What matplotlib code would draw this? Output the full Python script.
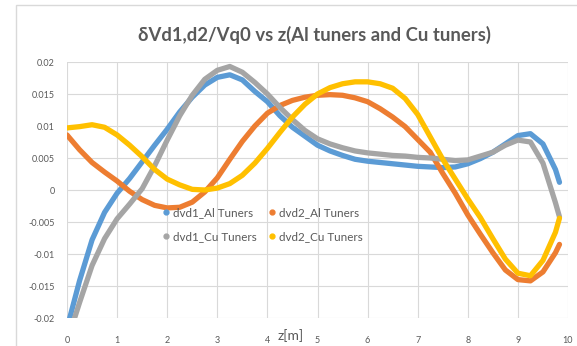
import matplotlib
matplotlib.use("Agg")
import matplotlib.pyplot as plt
from matplotlib.lines import Line2D
from matplotlib.patches import Rectangle

plt.rcParams['font.family'] = ['Lato', 'DejaVu Sans']

# z positions [m]
z = [0, 0.25, 0.5, 0.75, 1.0, 1.25, 1.5, 1.75, 2.0, 2.25, 2.5, 2.75,
     3.0, 3.25, 3.5, 3.75, 4.0, 4.25, 4.5, 4.75, 5.0, 5.25, 5.5, 5.75,
     6.0, 6.25, 6.5, 6.75, 7.0, 7.25, 7.5, 7.75, 8.0, 8.25, 8.5, 8.75,
     9.0, 9.25, 9.5, 9.75, 9.83]

# values in units of 1e-3
dvd1_al = [-21.6, -14.2, -7.8, -3.5, -0.5, 1.8, 4.4, 7.0, 9.5, 12.2, 14.5, 16.4,
           17.6, 18.0, 17.2, 15.4, 13.8, 11.6, 9.8, 8.4, 7.0, 6.1, 5.4, 4.8,
           4.5, 4.3, 4.1, 3.9, 3.7, 3.6, 3.5, 3.6, 4.1, 4.9, 5.9, 7.2,
           8.5, 8.8, 7.2, 3.2, 1.2]
dvd2_al = [8.6, 6.3, 4.3, 2.8, 1.4, -0.2, -1.5, -2.4, -2.8, -2.7, -1.9, -0.3,
           1.9, 4.8, 7.6, 10.0, 12.0, 13.2, 14.0, 14.5, 14.8, 14.9, 14.8, 14.4,
           13.8, 12.7, 11.4, 9.9, 7.9, 5.9, 2.6, -0.5, -3.9, -6.9, -9.8, -12.5,
           -14.0, -14.2, -12.8, -9.8, -8.5]
dvd1_cu = [-23.7, -17.6, -11.8, -7.6, -4.5, -2.2, 0.2, 3.8, 7.8, 11.6, 14.8, 17.3,
           18.7, 19.3, 18.4, 16.8, 15.0, 12.9, 11.0, 9.3, 8.0, 7.2, 6.6, 6.1,
           5.8, 5.6, 5.4, 5.3, 5.1, 5.0, 4.8, 4.6, 4.7, 5.3, 5.9, 7.0,
           7.8, 7.5, 4.2, -2.0, -4.2]
dvd2_cu = [9.7, 9.9, 10.2, 9.8, 8.6, 7.0, 5.2, 3.2, 1.7, 0.8, 0.1, 0.0,
           0.3, 1.0, 2.3, 4.2, 6.5, 9.0, 11.4, 13.4, 15.0, 16.0, 16.6, 16.9,
           16.9, 16.6, 15.9, 14.3, 11.8, 8.3, 4.8, 1.7, -1.4, -4.3, -7.6, -10.8,
           -13.0, -13.4, -11.0, -6.6, -4.4]

series = [dvd1_al, dvd2_al, dvd1_cu, dvd2_cu]
labels = ['dvd1_Al Tuners', 'dvd2_Al Tuners', 'dvd1_Cu Tuners', 'dvd2_Cu Tuners']
colors = ['#5B9BD5', '#ED7D31', '#A5A5A5', '#FFC000']
xticks = [0, 1, 2, 3, 4, 5, 6, 7, 8, 9, 10]
yticks = [-0.02, -0.015, -0.01, -0.005, 0, 0.005, 0.01, 0.015, 0.02]
ytick_labels = ['-0.02', '-0.015', '-0.01', '-0.005', '0', '0.005', '0.01', '0.015', '0.02']

txt = '#595959'

fig = plt.figure(figsize=(5.77, 3.46), dpi=100)
fig.patches.append(Rectangle((16 / 577, -0.1), 1.2, 1 - 5 / 346 + 0.1,
                             transform=fig.transFigure, fill=False,
                             edgecolor='#D9D9D9', linewidth=1.0))
ax = fig.add_axes([67 / 577, 1 - 318 / 346, 501 / 577, 256 / 346])

# excel draws series in order, later ones on top
for ys, c in zip(series, colors):
    ax.plot(z, [v * 1e-3 for v in ys], color=c, linewidth=3.8,
            solid_capstyle='round', solid_joinstyle='round')

ax.set_xlim(0, 10)
ax.set_ylim(-0.02, 0.02)
ax.set_xticks(xticks)
ax.set_yticks(yticks)
ax.set_yticklabels(ytick_labels)
ax.grid(True, color='#D9D9D9', linewidth=0.8)
ax.set_axisbelow(True)
for s in ax.spines.values():
    s.set_visible(False)
ax.tick_params(length=0, labelsize=6.5, labelcolor=txt)
ax.tick_params(axis='x', pad=13)
ax.tick_params(axis='y', pad=9)

fig.text(314 / 577, 1 - 35 / 346, 'δVd1,d2/Vq0 vs z(Al tuners and Cu tuners)',
         ha='center', va='center', fontsize=13.3, fontweight='bold', color=txt)
fig.text(291 / 577, 1 - 336 / 346, 'z[m]', ha='center', va='center',
         fontsize=10, color=txt)

# legend fills column-wise, reorder so rows read Al, Al / Cu, Cu
order = [0, 2, 1, 3]
handles = [Line2D([], [], linestyle='none', marker='o', markersize=3.5,
                  color=colors[i]) for i in order]
ax.legend(handles, [labels[i] for i in order], ncol=2, loc='center',
          frameon=False, bbox_to_anchor=((262 - 67) / 501, (318 - 224.5) / 256),
          fontsize=8.4, labelcolor=txt, handletextpad=0.2, columnspacing=0.9,
          handlelength=0.8, labelspacing=1.1)

fig.savefig('out.png', dpi=100)
